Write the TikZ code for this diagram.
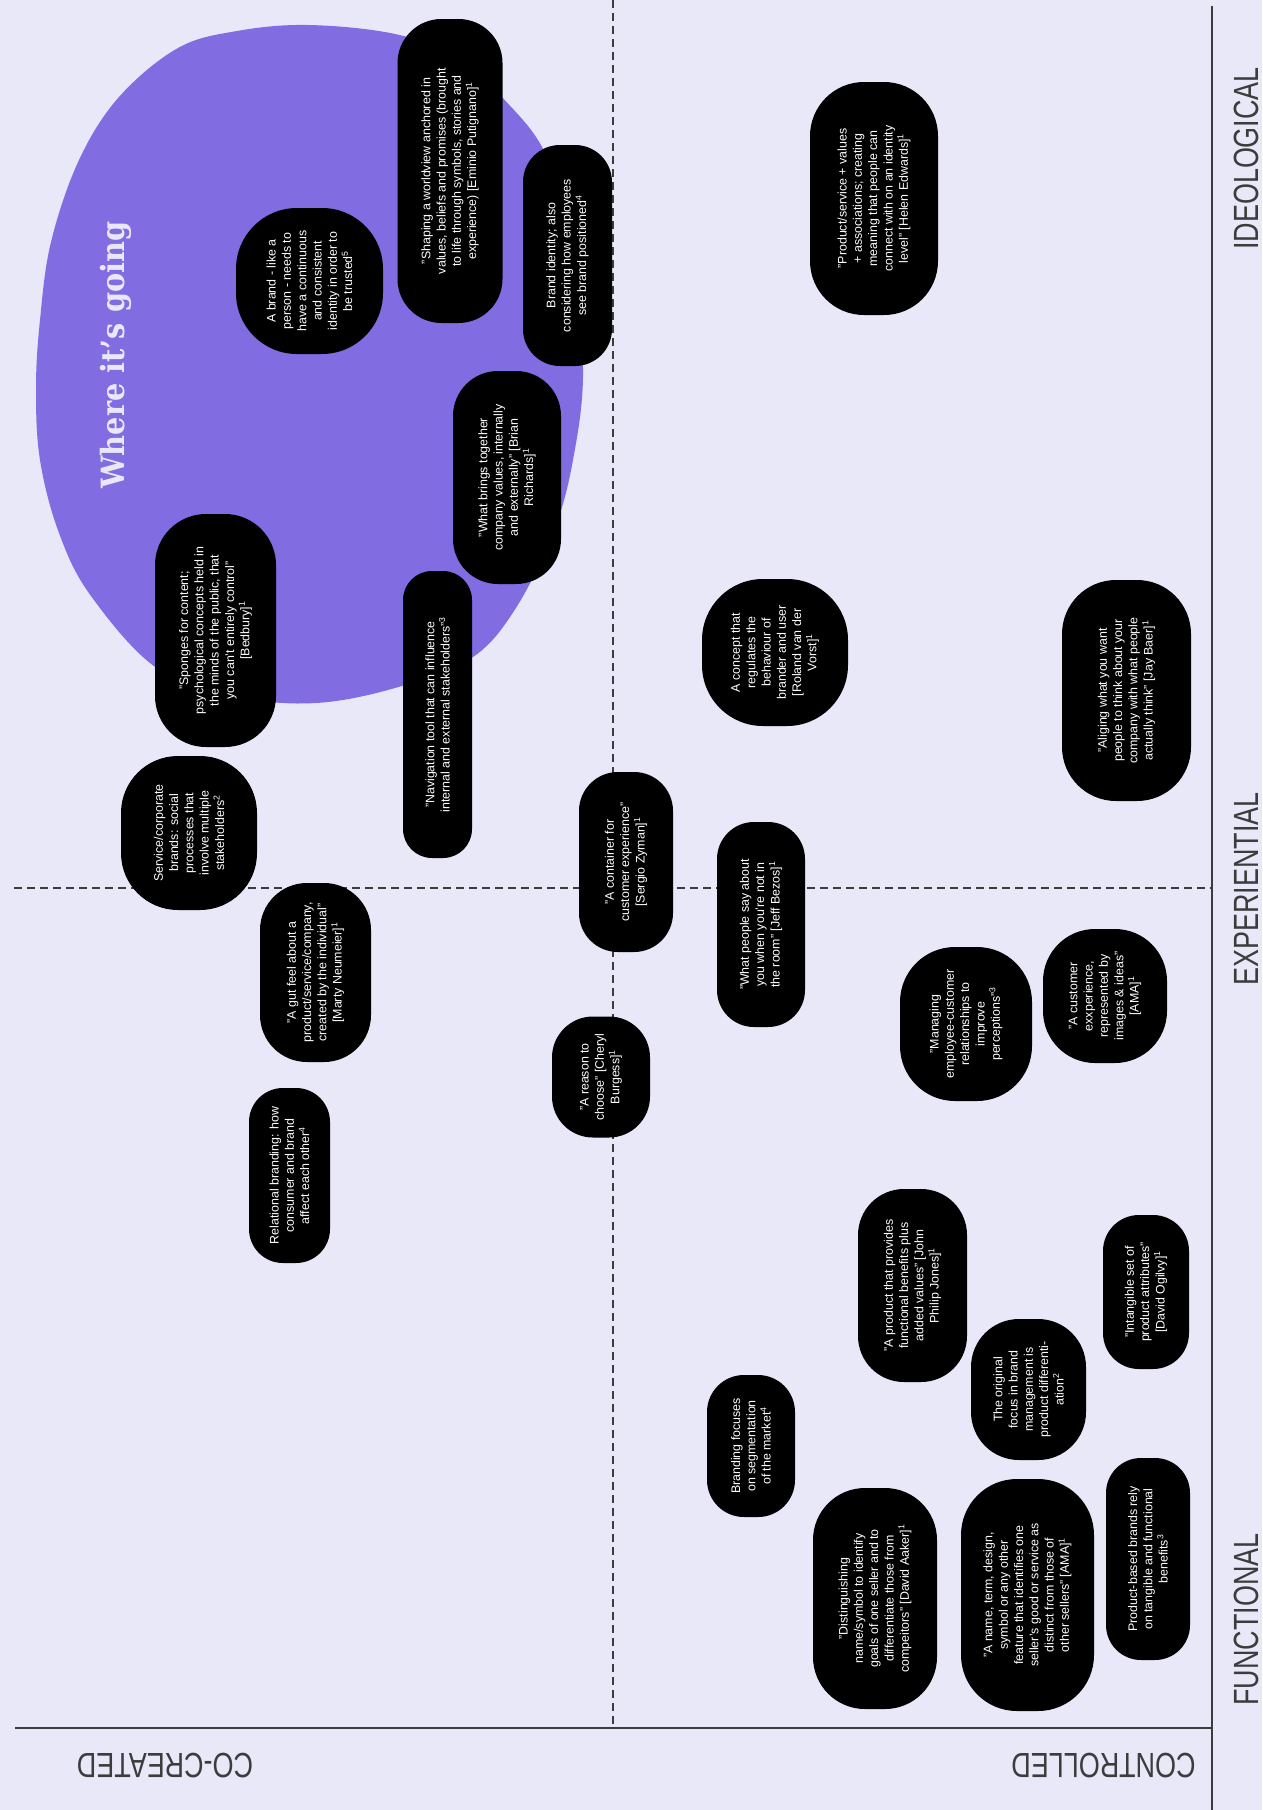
\documentclass[tikz,border=0pt]{standalone}
\usepackage{fontspec}
\setmainfont{Liberation Sans}
\newfontfamily\slabfont{DejaVu Serif}
\definecolor{bgc}{RGB}{233,232,248}
\definecolor{blobc}{RGB}{129,108,226}
\definecolor{axisc}{RGB}{60,60,60}
\newcommand{\fnm}[1]{\textsuperscript{#1}}
\tikzset{
  bub/.style={fill=black, text=white, align=center, inner sep=0pt, rotate=90,
    font=\fontsize{12.4}{15.3}\selectfont},
  dashline/.style={draw=axisc, line width=1.2pt, dash pattern=on 8pt off 5pt},
  axisline/.style={draw=axisc, line width=1.6pt},
  axislab/.style={text=axisc, font=\fontsize{35}{35}\selectfont, inner sep=0pt},
}
\newcommand{\bubble}[7]{\node[bub, minimum width=#5pt, minimum height=#4pt, rounded corners=#6pt] (#1) at (#2,#3) {#7};}
\begin{document}
\begin{tikzpicture}[x=1pt,y=-1pt]
\fill[bgc] (0,0) rectangle (1262,1810);
\useasboundingbox (0,0) rectangle (1262,1810);
% blob
\fill[blobc] plot[smooth cycle, tension=0.6] coordinates {
 (308,25) (395,34) (460,58) (502,97) (546,155) (570,250) (583,368) (573,460)
 (553,533) (514,611) (470,659) (395,688) (316,703) (240,697) (158,669)
 (91,596) (59,533) (40,460) (36,388) (40,320) (51,242) (79,160) (119,97)
 (178,48) (237,31)};
\node[text=bgc, rotate=90, inner sep=0pt, font=\slabfont\bfseries\fontsize{32}{32}\selectfont] (title) at (115.5,355) {\scalebox{0.9}[1]{Where it’s going}};
% axes
\coordinate (vt) at (613,0); \coordinate (vb) at (613,1727);
\coordinate (hl) at (14,888); \coordinate (hr) at (1212,888);
\coordinate (bl) at (15,1728); \coordinate (br) at (1212,1728);
\coordinate (rt) at (1212,6); \coordinate (rb) at (1212,1810);
\draw[dashline] (vt) -- (vb);
\draw[dashline] (hl) -- (hr);
\draw[axisline] (bl) -- (br);
\draw[axisline] (rt) -- (rb);
\node[axislab, rotate=90] (ideo) at (1246.5,158.5) {\scalebox{0.77}[1]{IDEOLOGICAL}};
\node[axislab, rotate=90] (expe) at (1246.5,889) {\scalebox{0.77}[1]{EXPERIENTIAL}};
\node[axislab, rotate=90] (func) at (1246.5,1619.5) {\scalebox{0.77}[1]{FUNCTIONAL}};
\node[axislab, rotate=180] (cocr) at (165,1765.5) {\scalebox{0.77}[1]{CO-CREATED}};
\node[axislab, rotate=180] (ctrl) at (1103.5,1765.5) {\scalebox{0.77}[1]{CONTROLLED}};
% bubbles
\bubble{shaping}{450}{171}{105}{304}{44}{"Shaping a worldview anchored in\\values, beliefs and promises (brought\\to life through symbols, stories and\\experience) [Eminio Putignano]\fnm{1}}
\bubble{brandid}{567.5}{255.5}{89}{221}{37}{Brand identity; also\\considering how employees\\see brand positioned\fnm{4}}
\bubble{abrand}{309.5}{281}{147}{146}{61}{A brand - like a\\person - needs to\\have a continuous\\and consistent\\identity in order to\\be trusted\fnm{5}}
\bubble{brings}{507}{477.5}{108}{213}{45}{"What brings together\\company values, internally\\and externally" [Brian\\Richards]\fnm{1}}
\bubble{sponges}{215.5}{630.5}{121}{233}{51}{"Sponges for content;\\psychological concepts held in\\the minds of the public, that\\you can't entirely control"\\{}[Bedbury]\fnm{1}}
\bubble{navig}{437.5}{714.5}{69}{287}{29}{"Navigation tool that can influence\\internal and external stakeholders"\fnm{3}}
\bubble{prodserv}{874}{198.5}{128}{233}{54}{"Product/service + values\\+ associations; creating\\meaning that people can\\connect with on an identity\\level" [Helen Edwards]\fnm{1}}
\bubble{concept}{775}{652.5}{146}{147}{61}{A concept that\\regulates the\\behaviour of\\brander and user\\{}[Roland van der\\Vorst]\fnm{1}}
\bubble{aligning}{1126.5}{690.5}{129}{221}{54}{"Aliging what you want\\people to think about your\\company with what people\\actually think" [Jay Baer]\fnm{1}}
\bubble{service}{189}{833}{136}{154}{57}{Service/corporate\\brands: social\\processes that\\involve multiple\\stakeholders\fnm{2}}
\bubble{gutfeel}{315.5}{972.5}{111}{179}{47}{"A gut feel about a\\product/service/company,\\created by the individual"\\{}[Marty Neumeier]\fnm{1}}
\bubble{container}{626}{862}{94}{180}{39}{"A container for\\customer experience"\\{}[Sergio Zyman]\fnm{1}}
\bubble{reason}{601}{1077}{98}{121}{41}{"A reason to\\choose" [Cheryl\\Burgess]\fnm{1}}
\bubble{peoplesay}{761}{924.5}{88}{205}{37}{"What people say about\\you when you're not in\\the room" [Jeff Bezos]\fnm{1}}
\bubble{managing}{966}{1024}{132}{154}{55}{"Managing\\employee-customer\\relationships to\\improve\\perceptions"\fnm{3}}
\bubble{custexp}{1105}{996}{124}{134}{52}{"A customer\\exxperience,\\represented by\\images \& ideas"\\{}[AMA]\fnm{1}}
\bubble{relational}{289.5}{1175.5}{81}{175}{34}{Relational branding: how\\consumer and brand\\affect each other\fnm{4}}
\bubble{prodprov}{912.5}{1285.5}{109}{193}{46}{"A product that provides\\functional benefits plus\\added values" [John\\Philip Jones]\fnm{1}}
\bubble{intangible}{1146}{1292}{86}{154}{36}{"Intangible set of\\product attributes"\\{}[David Ogilvy]\fnm{1}}
\bubble{origfocus}{1028.5}{1389.5}{115}{141}{48}{The original\\focus in brand\\management is\\product differenti-\\ation\fnm{2}}
\bubble{brandfoc}{751}{1446}{88}{142}{37}{Branding focuses\\on segmentation\\of the market\fnm{4}}
\bubble{disting}{875}{1598.5}{124}{221}{52}{"Distinguishing\\name/symbol to identify\\goals of one seller and to\\differentiate those from\\compeitors" [David Aaker]\fnm{1}}
\bubble{nameterm}{1027.5}{1595}{133}{232}{56}{"A name, term, design,\\symbol or any other\\feature that identifies one\\seller's good or service as\\distinct from those of\\other sellers" [AMA]\fnm{1}}
\bubble{prodbased}{1148}{1559}{84}{202}{35}{Product-based brands rely\\on tangible and functional\\benefits\fnm{3}}
\end{tikzpicture}
\end{document}
